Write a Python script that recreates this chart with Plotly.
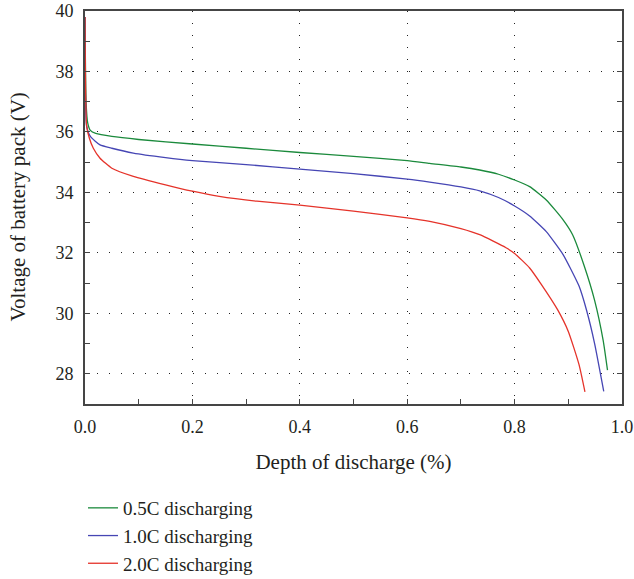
import plotly.graph_objects as go

# Depth of discharge (fraction) and pack voltage (V) for each discharge rate
dod_05c = [0, 0.002, 0.005, 0.01, 0.02, 0.05, 0.1, 0.2, 0.3, 0.4, 0.5, 0.6, 0.642, 0.7,
           0.735, 0.77, 0.8, 0.828, 0.859, 0.89, 0.908, 0.93, 0.949, 0.965, 0.973]
v_05c = [39.8, 37.0, 36.3, 36.05, 35.95, 35.85, 35.75, 35.6, 35.46, 35.32, 35.19, 35.05, 34.96, 34.84,
         34.74, 34.6, 34.41, 34.19, 33.75, 33.1, 32.6, 31.55, 30.43, 29.1, 28.12]

dod_10c = [0, 0.003, 0.01, 0.028, 0.05, 0.09, 0.15, 0.2, 0.3, 0.4, 0.5, 0.6, 0.642, 0.7,
           0.735, 0.77, 0.8, 0.828, 0.859, 0.89, 0.905, 0.92, 0.934, 0.949, 0.966]
v_10c = [39.8, 36.2, 35.85, 35.57, 35.46, 35.3, 35.15, 35.05, 34.92, 34.77, 34.62, 34.44, 34.34, 34.18,
         34.05, 33.83, 33.55, 33.22, 32.7, 31.95, 31.45, 30.9, 30.1, 29.0, 27.42]

dod_20c = [0, 0.003, 0.008, 0.0155, 0.028, 0.05, 0.09, 0.15, 0.2, 0.25, 0.32, 0.4, 0.5, 0.6,
           0.642, 0.7, 0.735, 0.784, 0.8, 0.828, 0.85, 0.88, 0.9, 0.92, 0.931]
v_20c = [39.8, 36.2, 35.8, 35.46, 35.13, 34.8, 34.53, 34.25, 34.04, 33.87, 33.71, 33.58, 33.38, 33.16,
         33.04, 32.8, 32.6, 32.17, 31.98, 31.5, 30.95, 30.12, 29.4, 28.3, 27.4]

series = [
    ("0.5C discharging", dod_05c, v_05c, "#1b8a3c"),
    ("1.0C discharging", dod_10c, v_10c, "#4646b4"),
    ("2.0C discharging", dod_20c, v_20c, "#e5332a"),
]

x_ticks = [0.0, 0.2, 0.4, 0.6, 0.8, 1.0]
y_ticks = [28, 30, 32, 34, 36, 38, 40]

FONT = "Liberation Serif"
AXIS_COLOR = "#454545"
TEXT_COLOR = "#231f20"

W, H = 634, 579
M_L, M_R, M_T, M_B = 85, 12, 11, 175

fig = go.Figure()
for name, x, y, color in series:
    fig.add_trace(go.Scatter(x=x, y=y, mode="lines", name=name,
                             line=dict(color=color, width=1.3, shape="spline", smoothing=0.5)))

axis_common = dict(
    showline=True, linecolor=AXIS_COLOR, linewidth=1.6,
    showgrid=True, gridcolor="#222222", gridwidth=1, griddash="1px,11px",
    zeroline=False, ticks="inside", ticklen=5, tickwidth=1.3, tickcolor=AXIS_COLOR,
    tickfont=dict(family=FONT, size=18, color=TEXT_COLOR),
    ticklabelstandoff=6, ticklabeloverflow="allow",
    minor=dict(ticks="inside", ticklen=5, tickwidth=1.3, tickcolor=AXIS_COLOR, showgrid=False),
)

fig.update_xaxes(
    **axis_common, range=[0, 1.0], tickvals=x_ticks,
    ticktext=[f"{t:.1f}" for t in x_ticks], mirror=True,
    title=dict(text="Depth of discharge (%)", font=dict(family=FONT, size=21, color=TEXT_COLOR),
               standoff=18),
)
fig.update_xaxes(minor_dtick=0.1)
fig.update_yaxes(**axis_common, range=[27, 40], tickvals=y_ticks, mirror="ticks")
fig.update_yaxes(minor_dtick=1)

# Vertical axis title placed as a rotated annotation left of the tick labels
plot_w = W - M_L - M_R
fig.add_annotation(
    text="Voltage of battery pack (V)", textangle=-90,
    xref="paper", x=(17 - M_L) / plot_w, xanchor="center",
    yref="paper", y=0.5, yanchor="middle", showarrow=False,
    font=dict(family=FONT, size=21, color=TEXT_COLOR),
)

fig.update_layout(
    width=W, height=H,
    margin=dict(l=M_L, r=M_R, t=M_T, b=M_B, autoexpand=False),
    plot_bgcolor="white", paper_bgcolor="white",
    font=dict(family=FONT, color=TEXT_COLOR),
    legend=dict(x=83 / W, xref="container", y=1 - 489 / H, yref="container",
                xanchor="left", yanchor="top", orientation="v",
                font=dict(family=FONT, size=19, color=TEXT_COLOR),
                itemwidth=30, tracegroupgap=0, bgcolor="rgba(0,0,0,0)"),
    showlegend=True,
)

fig.write_html("out.html")
